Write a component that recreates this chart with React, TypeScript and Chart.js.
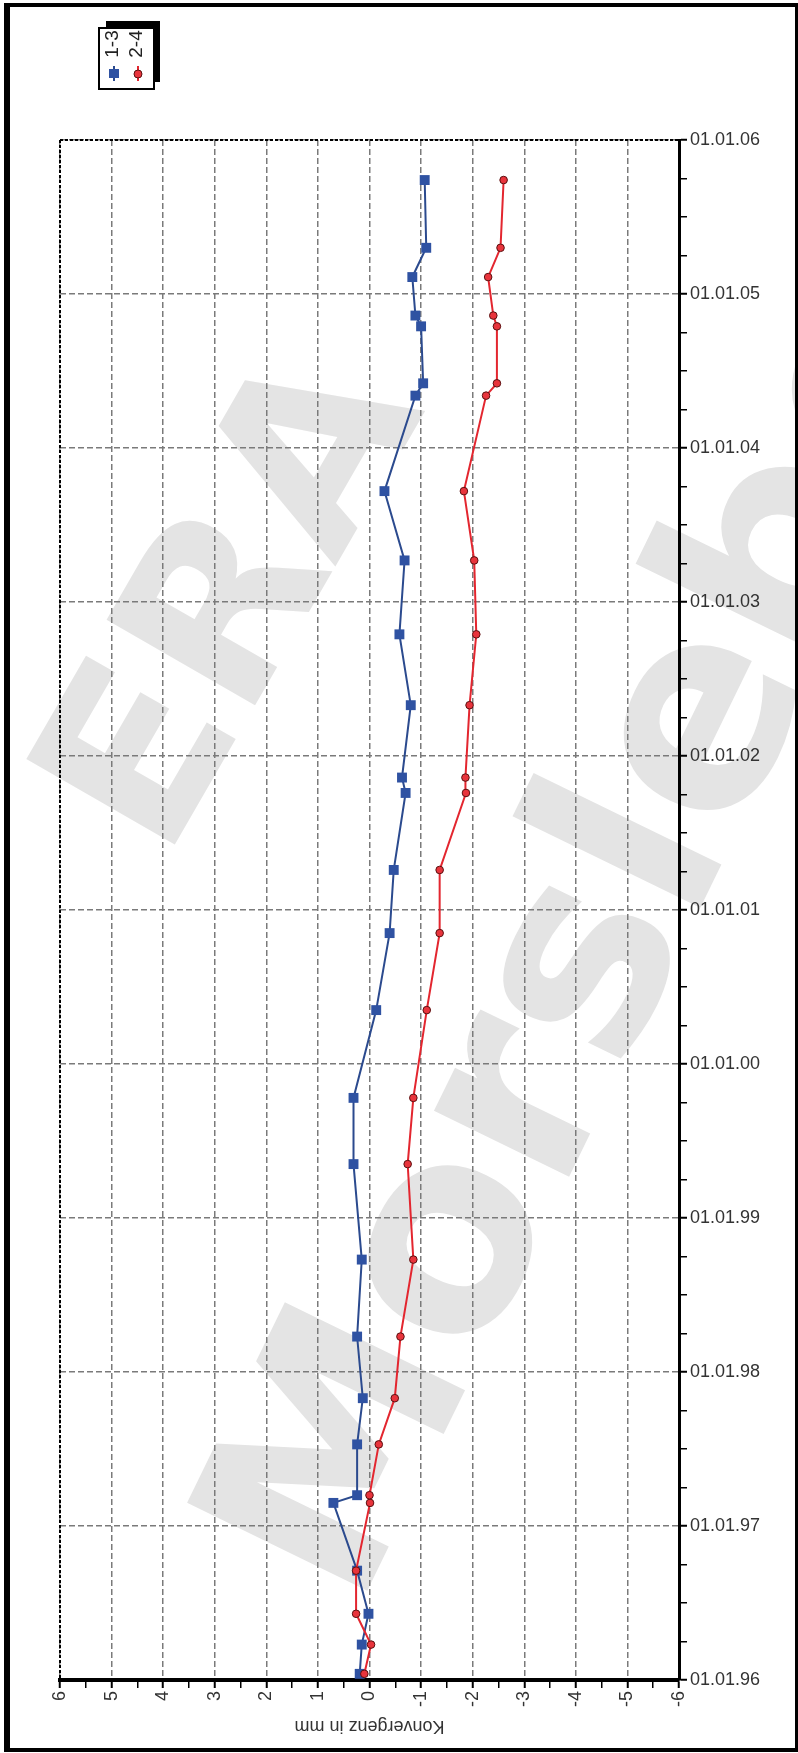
import React, { useEffect, useRef } from 'react';
import { Chart, registerables } from 'chart.js';

Chart.register(...registerables);

// Measurement dates (decimal years)
const measureDates = [
  1996.04, 1996.23, 1996.43, 1996.71, 1997.15, 1997.2, 1997.53, 1997.83,
  1998.23, 1998.73, 1999.35, 1999.78, 2000.35, 2000.85, 2001.26, 2001.76,
  2001.86, 2002.33, 2002.79, 2003.27, 2003.72, 2004.34, 2004.42, 2004.79,
  2004.86, 2005.11, 2005.3, 2005.74,
];

// Konvergenz in mm, series "1-3"
const series13 = [
  0.19, 0.15, 0.02, 0.24, 0.7, 0.24, 0.24, 0.13,
  0.24, 0.15, 0.31, 0.31, -0.13, -0.39, -0.47, -0.7,
  -0.63, -0.8, -0.58, -0.68, -0.29, -0.89, -1.04, -1.0,
  -0.89, -0.83, -1.1, -1.07,
];

// Konvergenz in mm, series "2-4"
const series24 = [
  0.1, -0.03, 0.26, 0.26, -0.01, 0.0, -0.18, -0.49,
  -0.6, -0.85, -0.74, -0.85, -1.11, -1.36, -1.36, -1.87,
  -1.86, -1.94, -2.07, -2.03, -1.83, -2.26, -2.47, -2.47,
  -2.4, -2.3, -2.54, -2.6,
];

const seriesNames = ['1-3', '2-4'];
const dateTickLabels = [
  '01.01.96', '01.01.97', '01.01.98', '01.01.99', '01.01.00', '01.01.01',
  '01.01.02', '01.01.03', '01.01.04', '01.01.05', '01.01.06',
];
const firstYear = 1996;
const axisTitle = 'Konvergenz in mm';
const watermarkWords = ['ERA', 'Morsleben'];

const W = 798;
const H = 1753;
const FONT = '"Liberation Sans", Arial, Helvetica, sans-serif';
const WM_FONT = '"DejaVu Sans", Verdana, sans-serif';

const isInt = (v: number) => Math.abs(v - Math.round(v)) < 1e-6;

const decorPlugin = {
  id: 'decor',
  beforeDraw(chart: any) {
    const ctx = chart.ctx;
    ctx.save();
    ctx.fillStyle = '#ffffff';
    ctx.fillRect(0, 0, W, H);
    // watermark
    ctx.fillStyle = '#e4e4e4';
    ctx.textBaseline = 'middle';
    ctx.save();
    ctx.font = `bold 235px ${WM_FONT}`;
    ctx.textAlign = 'center';
    ctx.translate(242, 606);
    ctx.rotate((-60 * Math.PI) / 180);
    ctx.fillText(watermarkWords[0], 0, 0);
    ctx.restore();
    ctx.save();
    ctx.font = `bold 275px ${WM_FONT}`;
    ctx.textAlign = 'left';
    ctx.translate(292, 1582);
    ctx.rotate((-64 * Math.PI) / 180);
    ctx.fillText(watermarkWords[1], 0, 0);
    ctx.restore();
    ctx.restore();
  },
  afterDraw(chart: any) {
    const ctx = chart.ctx;
    const a = chart.chartArea;
    ctx.save();
    // dotted top / left plot border
    ctx.strokeStyle = '#000';
    ctx.lineWidth = 2;
    ctx.setLineDash([3, 2]);
    ctx.beginPath();
    ctx.moveTo(a.left, a.top);
    ctx.lineTo(a.right, a.top);
    ctx.moveTo(a.left, a.top);
    ctx.lineTo(a.left, a.bottom);
    ctx.stroke();
    ctx.setLineDash([]);

    // axis title (upside down)
    ctx.fillStyle = '#333';
    ctx.font = `18px ${FONT}`;
    ctx.textAlign = 'center';
    ctx.textBaseline = 'middle';
    ctx.save();
    ctx.translate((a.left + a.right) / 2, 1726);
    ctx.rotate(Math.PI);
    ctx.fillText(axisTitle, 0, 0);
    ctx.restore();

    // legend with shadow
    ctx.fillStyle = '#000';
    ctx.fillRect(106, 21, 54, 61);
    ctx.fillStyle = '#fff';
    ctx.fillRect(99, 28, 55, 61);
    ctx.strokeStyle = '#000';
    ctx.lineWidth = 2;
    ctx.strokeRect(99, 28, 55, 61);
    const ds = chart.data.datasets;
    const cols = [113, 137];
    for (let i = 0; i < 2; i++) {
      const d = ds[i];
      const cx = cols[i];
      ctx.save();
      ctx.translate(cx, 44);
      ctx.rotate(-Math.PI / 2);
      ctx.fillStyle = '#222';
      ctx.font = `19px ${FONT}`;
      ctx.textAlign = 'center';
      ctx.textBaseline = 'middle';
      ctx.fillText(seriesNames[i], 0, 0);
      ctx.restore();
      ctx.strokeStyle = d.borderColor;
      ctx.lineWidth = 2;
      ctx.beginPath();
      ctx.moveTo(cx + 1, 66);
      ctx.lineTo(cx + 1, 81);
      ctx.stroke();
      ctx.fillStyle = d.pointBackgroundColor;
      if (i === 0) {
        ctx.fillRect(cx - 4, 69, 10, 9);
      } else {
        ctx.beginPath();
        ctx.arc(cx + 1, 74, 4, 0, Math.PI * 2);
        ctx.fill();
        ctx.strokeStyle = d.pointBorderColor;
        ctx.lineWidth = 1;
        ctx.stroke();
      }
    }

    // outer frame
    ctx.fillStyle = '#000';
    ctx.fillRect(4, 3, 6, 1749);
    ctx.fillRect(4, 3, 794, 4);
    ctx.fillRect(795, 3, 3, 1749);
    ctx.fillRect(4, 1748, 794, 4);
    ctx.restore();
  },
};

export default function App() {
  const ref = useRef<HTMLCanvasElement | null>(null);

  useEffect(() => {
    if (!ref.current) return;
    const mk = (vals: number[]) => measureDates.map((d, i) => ({ x: vals[i], y: d }));
    const gridColor = (ctx: any) =>
      ctx.tick && isInt(ctx.tick.value) ? '#7a7a7a' : 'rgba(0,0,0,0)';
    const chart = new Chart(ref.current, {
      type: 'scatter',
      data: {
        datasets: [
          {
            label: seriesNames[0],
            data: mk(series13),
            showLine: true,
            borderColor: '#2B4A8E',
            borderWidth: 2,
            pointStyle: 'rect',
            pointRadius: 7,
            pointBackgroundColor: '#2F52A2',
            pointBorderColor: '#2F52A2',
            pointBorderWidth: 0,
            order: 1,
          },
          {
            label: seriesNames[1],
            data: mk(series24),
            showLine: true,
            borderColor: '#E3262F',
            borderWidth: 2,
            pointStyle: 'circle',
            pointRadius: 3.8,
            pointBackgroundColor: '#E8343C',
            pointBorderColor: '#5A1010',
            pointBorderWidth: 1,
            order: 0,
          },
        ],
      },
      options: {
        responsive: false,
        animation: false,
        devicePixelRatio: 1,
        layout: { padding: { left: 60, top: 140, right: 0, bottom: 0 } },
        plugins: { legend: { display: false }, tooltip: { enabled: false }, title: { display: false } },
        scales: {
          x: {
            type: 'linear',
            position: 'bottom',
            min: -6,
            max: 6,
            reverse: true,
            afterFit: (s: any) => {
              s.height = 73;
            },
            ticks: {
              stepSize: 0.5,
              autoSkip: false,
              minRotation: 90,
              maxRotation: 90,
              padding: 3,
              color: '#333',
              font: { family: FONT, size: 18 },
              callback: (v: any) => (isInt(Number(v)) ? String(Math.round(Number(v))) : ''),
            },
            grid: {
              color: gridColor,
              lineWidth: 1.5,
              tickLength: 8,
              tickColor: '#000',
              tickWidth: (ctx: any) => (ctx.tick && isInt(ctx.tick.value) ? 2 : 1.5),
            },
            border: { display: true, color: '#000', width: 4, dash: [6, 3] },
          },
          y: {
            type: 'linear',
            position: 'right',
            min: 1996,
            max: 2006,
            afterFit: (s: any) => {
              s.width = 119;
            },
            ticks: {
              stepSize: 0.25,
              autoSkip: false,
              padding: 3,
              color: '#333',
              font: { family: FONT, size: 18 },
              callback: (v: any) => {
                const n = Number(v);
                return isInt(n) ? dateTickLabels[Math.round(n) - firstYear] : '';
              },
            },
            grid: {
              color: gridColor,
              lineWidth: 1.5,
              tickLength: 8,
              tickColor: '#000',
              tickWidth: (ctx: any) => (ctx.tick && isInt(ctx.tick.value) ? 2 : 1.5),
            },
            border: { display: true, color: '#000', width: 3, dash: [6, 3] },
          },
        },
      },
      plugins: [decorPlugin],
    } as any);
    return () => chart.destroy();
  }, []);

  return (
    <div style={{ position: 'absolute', left: 0, top: 0, width: W, height: H, overflow: 'hidden', background: '#fff' }}>
      <canvas ref={ref} width={W} height={H} style={{ width: W, height: H, display: 'block' }} />
    </div>
  );
}
